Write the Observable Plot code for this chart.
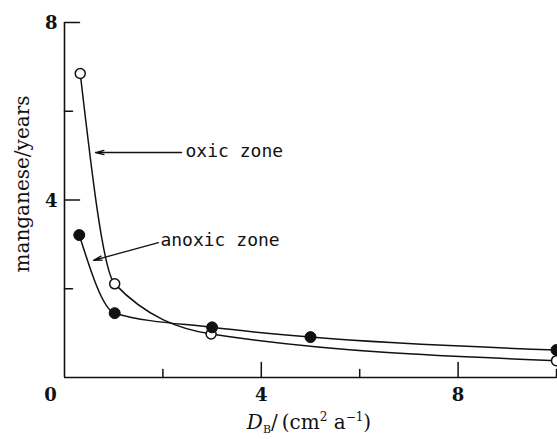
<!DOCTYPE html>
<html>
<head>
<meta charset="utf-8">
<script src="https://cdn.jsdelivr.net/npm/d3@7"></script>
<script src="https://cdn.jsdelivr.net/npm/@observablehq/plot@0.6"></script>
<style>
  html, body { margin: 0; padding: 0; background: #fff; overflow: hidden; }
</style>
</head>
<body>
<div id="chart"></div>
<script>
// Residence time of manganese against the biodiffusion coefficient D_B
const oxicD = [0.32, 1.02, 2.98, 10];
const oxicYears = [6.85, 2.11, 0.98, 0.38];
const anoxicD = [0.3, 1.02, 3.0, 5.0, 10];
const anoxicYears = [3.21, 1.45, 1.13, 0.91, 0.62];

const majorTicksX = [4, 8];
const minorTicksX = [2, 6, 10];
const majorTicksY = [4, 8];
const minorTicksY = [2, 6];
const originLabel = "0";

const yLabel = "manganese/years";
const zoneLabels = ["oxic zone", "anoxic zone"];

const oxic = oxicD.map((d, i) => ({d, years: oxicYears[i]}));
const anoxic = anoxicD.map((d, i) => ({d, years: anoxicYears[i]}));

// label and arrow placement, in data units
const callouts = [
  {text: zoneLabels[0], tx: 2.46, ty: 5.09, x1: 2.38, y1: 5.07, x2: 0.63, y2: 5.07},
  {text: zoneLabels[1], tx: 1.95, ty: 3.09, x1: 1.91, y1: 3.04, x2: 0.59, y2: 2.64}
];

const serif = "'DejaVu Serif', serif";
const mono = "'DejaVu Sans Mono', monospace";

// inward-pointing tick: a straight segment of length l
const tickShape = {draw(context, l) { context.moveTo(0, 0); context.lineTo(0, -l); }};

const chart = Plot.plot({
  width: 557,
  height: 439,
  marginLeft: 64,
  marginRight: 1,
  marginTop: 22,
  marginBottom: 62,
  style: {fontFamily: serif, color: "#111", background: "#fff"},
  x: {domain: [0, 10], axis: null},
  y: {domain: [0, 8], axis: null},
  marks: [
    // axis lines
    Plot.ruleX([0], {y1: 0, y2: 8, strokeWidth: 1.6}),
    Plot.ruleY([0], {x1: 0, x2: 10, strokeWidth: 1.6}),
    // ticks
    Plot.vector(majorTicksX, {x: d => d, y: 0, length: 15, rotate: 0, anchor: "start", shape: tickShape, fill: "none", strokeWidth: 1.5}),
    Plot.vector(minorTicksX, {x: d => d, y: 0, length: 8, rotate: 0, anchor: "start", shape: tickShape, fill: "none", strokeWidth: 1.5}),
    Plot.vector(majorTicksY, {x: 0, y: d => d, length: 15, rotate: 90, anchor: "start", shape: tickShape, fill: "none", strokeWidth: 1.5}),
    Plot.vector(minorTicksY, {x: 0, y: d => d, length: 8, rotate: 90, anchor: "start", shape: tickShape, fill: "none", strokeWidth: 1.5}),
    // tick labels
    Plot.text(majorTicksX, {x: d => d, y: 0, dy: 18, text: d => String(d), fontSize: 18, fontWeight: "bold", textAnchor: "middle", lineAnchor: "middle"}),
    Plot.text(majorTicksY, {x: 0, y: d => d, dx: -7, dy: 1, text: d => String(d), fontSize: 18, fontWeight: "bold", textAnchor: "end", lineAnchor: "middle"}),
    Plot.text([originLabel], {x: 0, y: 0, dx: -14, dy: 18, text: d => d, fontSize: 18, fontWeight: "bold", textAnchor: "middle", lineAnchor: "middle"}),
    // y axis title
    Plot.text([yLabel], {frameAnchor: "left", dx: -42, dy: -16, rotate: -90, text: d => d, fontSize: 20, textAnchor: "middle", lineAnchor: "middle"}),
    // curves
    Plot.line(oxic, {x: "d", y: "years", curve: "monotone-x", strokeWidth: 1.5}),
    Plot.line(anoxic, {x: "d", y: "years", curve: "monotone-x", strokeWidth: 1.5}),
    // points
    Plot.dot(oxic, {x: "d", y: "years", r: 5, fill: "white", stroke: "#111", strokeWidth: 1.5}),
    Plot.dot(anoxic, {x: "d", y: "years", r: 5.5, fill: "#111", stroke: "#111", strokeWidth: 1}),
    // callouts
    Plot.arrow(callouts, {x1: "x1", y1: "y1", x2: "x2", y2: "y2", headLength: 10, headAngle: 28, strokeWidth: 1.3}),
    Plot.text(callouts, {x: "tx", y: "ty", text: "text", fontFamily: mono, fontSize: 18, textAnchor: "start", lineAnchor: "middle"})
  ]
});

document.getElementById("chart").append(chart);

// x axis title with subscript and superscripts
const svg = d3.select(chart);
const xl = svg.append("text")
  .attr("x", 309)
  .attr("y", 429)
  .attr("text-anchor", "middle")
  .attr("fill", "#111")
  .style("font-family", serif)
  .style("font-size", "20px");
xl.append("tspan").attr("font-style", "italic").text("D");
xl.append("tspan").attr("font-size", "11px").attr("dy", 4).text("B");
xl.append("tspan").attr("dy", -4).text("/\u2009(cm");
xl.append("tspan").attr("font-size", "12px").attr("dy", -8).text("2");
xl.append("tspan").attr("dy", 8).text(" a");
xl.append("tspan").attr("font-size", "12px").attr("dy", -8).text("\u22121");
xl.append("tspan").attr("dy", 8).text(")");
</script>
</body>
</html>
